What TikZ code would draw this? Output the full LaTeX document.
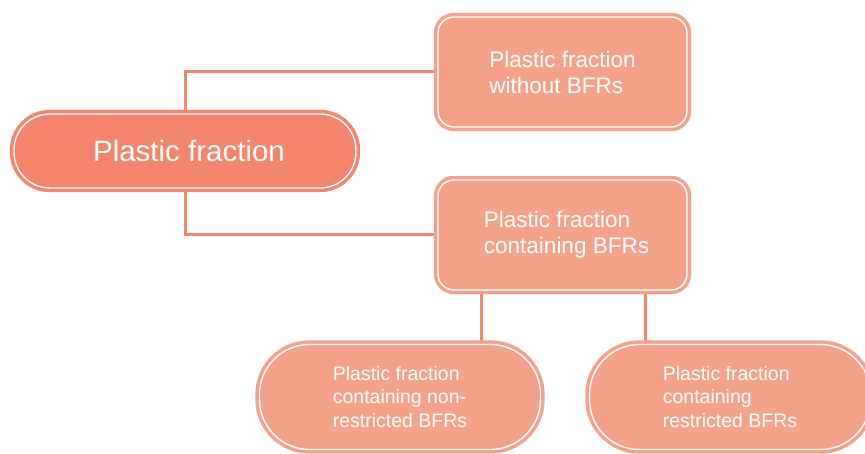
\documentclass[tikz,border=0pt]{standalone}
\usepackage{fontspec}
\setmainfont{Liberation Sans}
\usetikzlibrary{positioning, backgrounds, calc}
\definecolor{pfdark}{RGB}{243, 134, 108}
\definecolor{pflite}{RGB}{244, 161, 138}
\definecolor{pfline}{RGB}{240, 136, 112}
\tikzset{
  rootbox/.style={rectangle, rounded corners=36pt, draw=pfdark, fill=pfdark,
                  line width=3.5pt, double=white, double distance=1.4pt,
                  minimum width=342pt, minimum height=74pt, inner sep=0pt,
                  text=white, font=\fontsize{29.5}{33}\selectfont},
  subbox/.style={rectangle, rounded corners=16pt, draw=pflite, fill=pflite,
                 line width=3.5pt, double=white, double distance=1.4pt,
                 minimum width=249pt, minimum height=110pt, inner sep=0pt,
                 align=left, text=white, font=\fontsize{22.5}{26}\selectfont},
  leafbox/.style={rectangle, rounded corners=50pt, draw=pflite, fill=pflite,
                  line width=3.5pt, double=white, double distance=1.4pt,
                  minimum width=281pt, minimum height=105pt, inner sep=0pt,
                  align=left, text=white, font=\fontsize{19.5}{23.5}\selectfont},
  link/.style={draw=pfline, line width=3pt},
}
\begin{document}
\begin{tikzpicture}[x=1pt, y=-1pt]
  \useasboundingbox (0,0) rectangle (865,454);
  \node[rootbox] (root) at (185, 151) {\hspace*{8pt}Plastic fraction};
  \node[subbox] (without) at (562.5, 72) {Plastic fraction\\without BFRs};
  \node[subbox] (with) at (562.5, 235) {\hspace*{8pt}\begin{tabular}{@{}l@{}}Plastic fraction\\containing BFRs\end{tabular}};
  \node[leafbox] (nonres) at (400, 397) {Plastic fraction\\containing non-\\restricted BFRs};
  \node[leafbox] (res) at (730, 397) {Plastic fraction\\containing\\restricted BFRs};
  \begin{scope}[on background layer]
    \draw[link] (root.north) |- (without.west);
    \draw[link] (root.south) |- (with.west);
    \draw[link] ([xshift=-81pt]with.south) -- ([xshift=-81pt]with.south |- nonres.north);
    \draw[link] ([xshift=83pt]with.south) -- ([xshift=83pt]with.south |- res.north);
  \end{scope}
\end{tikzpicture}
\end{document}
